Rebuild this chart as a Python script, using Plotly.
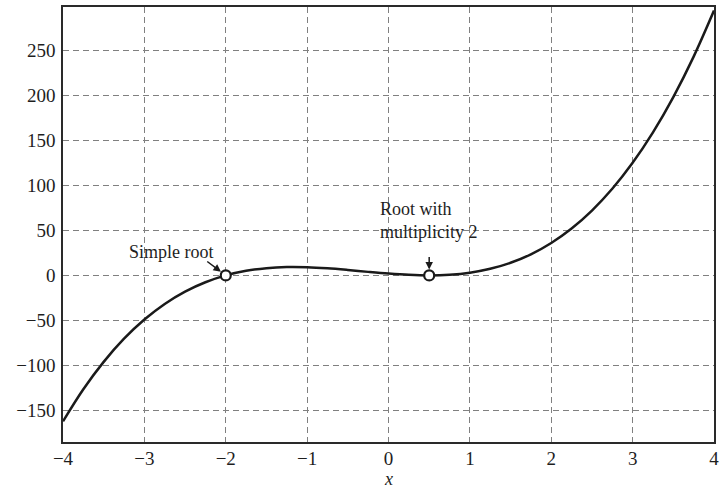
import plotly.graph_objects as go

# Sampled curve values
x_vals = [-4.0, -3.75, -3.5, -3.25, -3.0, -2.75, -2.5, -2.25, -2.0, -1.75, -1.5,
          -1.25, -1.0, -0.75, -0.5, -0.25, 0.0, 0.25, 0.5, 0.75, 1.0, 1.25, 1.5,
          1.75, 2.0, 2.25, 2.5, 2.75, 3.0, 3.25, 3.5, 3.75, 4.0]
y_vals = [-162.0, -126.4, -96.0, -70.3, -49.0, -31.7, -18.0, -7.6, 0.0, 5.1, 8.0,
          9.2, 9.0, 7.8, 6.0, 3.9, 2.0, 0.6, 0.0, 0.7, 3.0, 7.3, 14.0,
          23.4, 36.0, 52.1, 72.0, 96.2, 125.0, 158.8, 198.0, 242.9, 294.0]

# Roots
root_x = [-2.0, 0.5]
root_y = [0.0, 0.0]

x_ticks = [-4, -3, -2, -1, 0, 1, 2, 3, 4]
y_ticks = [-150, -100, -50, 0, 50, 100, 150, 200, 250]

FONT = "Liberation Serif"
INK = "#1e1e1e"

fig = go.Figure()
fig.add_trace(go.Scatter(x=x_vals, y=y_vals, mode="lines", line_shape="spline",
                         line=dict(color="#1a1a1a", width=2.5), showlegend=False,
                         hoverinfo="skip"))
fig.add_trace(go.Scatter(x=root_x, y=root_y, mode="markers", showlegend=False,
                         marker=dict(size=10, color="white",
                                     line=dict(color="#1a1a1a", width=2.2))))

axis_common = dict(showgrid=True, gridcolor="#808080", griddash="6px,4px", gridwidth=1.1,
                   showline=True, linecolor="#2a2a2a", linewidth=1.5, mirror=True,
                   zeroline=False, ticks="", automargin=False,
                   tickfont=dict(family=FONT, size=19, color=INK))

fig.update_xaxes(range=[-4, 4], tickvals=x_ticks, ticklabelstandoff=-2, **axis_common)
fig.update_yaxes(range=[-185, 298], tickvals=y_ticks, ticklabelstandoff=2, **axis_common)

# x-axis label placed beneath the tick labels, resting on the bottom edge
fig.add_annotation(xref="paper", yref="paper", x=0.5, y=-0.1126, yanchor="bottom",
                   text="<i>x</i>", showarrow=False,
                   font=dict(family=FONT, size=18, color=INK))

fig.add_annotation(x=-2.67, y=26, text="Simple root", showarrow=False,
                   font=dict(family=FONT, size=18, color=INK))
fig.add_annotation(x=-2, y=0, text="", showarrow=True, ax=-20, ay=-15,
                   arrowhead=2, arrowsize=1, arrowwidth=1.5, arrowcolor="#1a1a1a",
                   standoff=6)
fig.add_annotation(x=-0.13, y=61, text="Root with<br>multiplicity 2", showarrow=False,
                   xanchor="left", align="left",
                   font=dict(family=FONT, size=18, color=INK))
fig.add_annotation(x=0.5, y=0, text="", showarrow=True, ax=0, ay=-20,
                   arrowhead=2, arrowsize=1, arrowwidth=1.5, arrowcolor="#1a1a1a",
                   standoff=6)

fig.update_layout(width=720, height=491, paper_bgcolor="white", plot_bgcolor="white",
                  margin=dict(l=63, r=6, t=7, b=49),
                  font=dict(family=FONT, color=INK))

fig.write_html("out.html")
